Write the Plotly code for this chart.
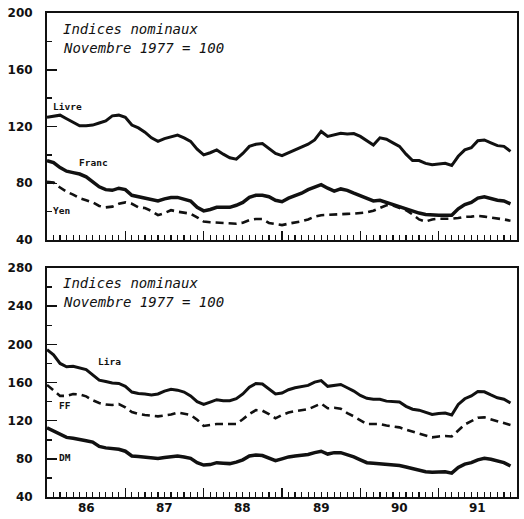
import plotly.graph_objects as go

# Monthly data, Jan 1986 .. Dec 1991
start_year = 1986
n_months = 72
months = [start_year + i / 12 for i in range(n_months)]

livre = [126.5, 127.5, 128, 125.5, 123, 120.5, 120.5, 121, 122.5, 124, 127.5, 128,
         126.5, 121, 119, 116, 112, 109.5, 111.5, 113, 114, 112, 109.5, 104,
         100, 101.5, 103.5, 100.5, 98, 97, 101, 106, 107.5, 108, 104.5, 101,
         99.5, 101.5, 104, 105.5, 107.5, 110.5, 116.5, 113, 114, 115.2, 114.8, 115,
         113, 110, 107, 112, 111, 108.5, 106, 100.5, 96, 96, 94, 93,
         93.5, 94, 92.5, 99, 103.5, 105, 110, 110.5, 108.5, 106.5, 106, 102.5]
franc = [96, 94.5, 91, 88.5, 87.5, 86.5, 84.5, 81, 77.5, 75.5, 75, 76.5,
         75.5, 71.5, 70.5, 70, 68.5, 67.5, 69, 70, 70, 69, 67.5, 63,
         60.5, 61.5, 63, 63, 63, 64.5, 66.5, 70, 71.5, 71.5, 70.5, 68,
         67, 69.5, 71, 73, 75.5, 77, 79, 76.5, 74.5, 76, 75, 73,
         71, 69, 67.5, 68, 66.5, 65, 63.5, 61.5, 60, 59, 58, 57.5,
         57.5, 57.5, 57.5, 62, 65, 66.5, 69.5, 70.5, 69, 68, 67.5, 65.5]
yen = [81, 80.5, 77, 74, 72, 69.5, 68, 66.5, 64, 63, 63.5, 65.5,
       66.5, 65.5, 63, 62.5, 60.5, 57.5, 59, 61, 60, 59.5, 58.5, 56,
       53, 52.5, 52.2, 51.8, 51.3, 51.5, 52.2, 54, 54.8, 54.8, 52, 51,
       50.5, 51.5, 52.2, 53.2, 54.5, 56.5, 57.5, 57.6, 57.8, 58.1, 58.4, 58.6,
       58.8, 59.5, 60.6, 62.8, 64.5, 64.3, 62.5, 61, 58, 54.5, 53, 54.5,
       55, 54.8, 55, 55.5, 56.3, 56.5, 57, 56.5, 56, 55.5, 54.5, 53.6]

lira = [194.5, 189, 180, 176.5, 177, 175, 173.5, 168, 162.5, 161, 159.5, 159,
        156, 150, 148.5, 148, 147, 148, 151, 153, 152, 150, 146, 140,
        137, 139.5, 142, 141, 141, 143, 148, 155, 159, 158.5, 153, 148,
        149, 152.5, 154.5, 155.5, 157, 160.5, 162, 156, 157, 158, 154.5, 151,
        146.5, 143.5, 142.5, 142.5, 140.5, 140, 139.5, 135, 132, 131, 129, 126.5,
        127.5, 128, 126, 137, 143, 146, 150.5, 150.3, 147, 144, 142.5, 138.5]
ff = [157.5, 151.5, 146, 146, 148, 147.5, 145.5, 141.5, 138.5, 137, 136.5, 137.5,
      134, 129, 127, 126, 125, 124.5, 125.5, 126.5, 128.5, 127.5, 126, 121,
      114.5, 115.5, 116.5, 116.5, 116.5, 116.5, 121.5, 127, 131, 130.5, 127, 122.5,
      126, 128.5, 130, 131, 132, 135, 138, 133, 133.5, 132.5, 128, 124.5,
      120.5, 116.5, 116.5, 116.5, 115, 113.8, 113, 110.5, 108.5, 107, 105, 102.5,
      103.5, 104, 103.5, 110, 116, 119.5, 123, 123.5, 121.5, 119.5, 117, 115.5]
dm = [112.5, 109, 105.5, 102.5, 101.5, 100.5, 99, 97.5, 93, 91.5, 90.5, 90,
      88, 83, 82.5, 82, 81, 80.5, 81.5, 82.5, 83, 82, 80.5, 76,
      73.5, 74, 76, 75.5, 75, 76.5, 79, 83, 84, 83.5, 80.5, 78,
      80, 82, 83, 83.5, 84.5, 86.5, 88, 85, 86.5, 86.5, 84.5, 82,
      79, 76, 75.5, 75, 74.5, 74, 73, 71.5, 70, 68.5, 66.5, 66,
      66.5, 66.5, 65, 71, 74.5, 76, 79, 80.5, 79.5, 77.5, 76, 72.5]

year_ticks = [1987, 1988, 1989, 1990, 1991]
year_labels = ["86", "87", "88", "89", "90", "91"]
year_label_pos = [1986.5, 1987.5, 1988.5, 1989.5, 1990.5, 1991.5]

top_yticks = [40, 80, 120, 160, 200]
bot_yticks = [40, 80, 120, 160, 200, 240, 280]

INK = "#111111"
SOLID_W = 3
DASH_W = 2.6
DASH = "8px,5px"

fig = go.Figure()
fig.add_trace(go.Scatter(x=months, y=livre, mode="lines", line=dict(color=INK, width=SOLID_W),
                         xaxis="x", yaxis="y", showlegend=False))
fig.add_trace(go.Scatter(x=months, y=franc, mode="lines", line=dict(color=INK, width=SOLID_W + 0.5),
                         xaxis="x", yaxis="y", showlegend=False))
fig.add_trace(go.Scatter(x=months, y=yen, mode="lines", line=dict(color=INK, width=DASH_W, dash=DASH),
                         xaxis="x", yaxis="y", showlegend=False))
fig.add_trace(go.Scatter(x=months, y=lira, mode="lines", line=dict(color=INK, width=SOLID_W),
                         xaxis="x2", yaxis="y2", showlegend=False))
fig.add_trace(go.Scatter(x=months, y=ff, mode="lines", line=dict(color=INK, width=DASH_W, dash=DASH),
                         xaxis="x2", yaxis="y2", showlegend=False))
fig.add_trace(go.Scatter(x=months, y=dm, mode="lines", line=dict(color=INK, width=SOLID_W + 0.5),
                         xaxis="x2", yaxis="y2", showlegend=False))

tick_font = dict(family="DejaVu Sans", size=12, color=INK, weight="bold")

xcommon = dict(range=[1986, 1992], showgrid=False, zeroline=False,
               showline=True, linecolor=INK, linewidth=2, mirror=True,
               tickmode="array", tickvals=year_ticks, ticks="inside", ticklen=9,
               tickwidth=1.5, tickcolor=INK, showticklabels=False,
               minor=dict(tick0=1986, dtick=1 / 12, ticks="inside", ticklen=5,
                          tickwidth=1.2, tickcolor=INK, showgrid=False))

def ycommon(rng, vals):
    return dict(range=rng, showgrid=False, zeroline=False,
                showline=True, linecolor=INK, linewidth=2, mirror=True,
                tickmode="array", tickvals=vals, ticks="inside", ticklen=10,
                tickwidth=1.5, tickcolor=INK, tickfont=tick_font,
                ticklabelstandoff=10,
                minor=dict(dtick=20, tick0=0, ticks="inside", ticklen=5,
                           tickwidth=1.5, tickcolor=INK, showgrid=False))

fig.update_layout(
    width=524, height=519,
    margin=dict(l=47, r=5, t=13, b=22),
    paper_bgcolor="white", plot_bgcolor="white",
    hovermode=False,
    xaxis=dict(domain=[0, 1], anchor="y", **xcommon),
    yaxis=dict(domain=[0.531, 1.0], anchor="x", **ycommon([40, 200], top_yticks)),
    xaxis2=dict(domain=[0, 1], anchor="y2", **xcommon),
    yaxis2=dict(domain=[0.0, 0.473], anchor="x2", **ycommon([40, 280], bot_yticks)),
)

annotations = []
for pos, lab in zip(year_label_pos, year_labels):
    annotations.append(dict(x=pos, y=0, xref="x2", yref="paper", text=lab, showarrow=False,
                            yanchor="top", yshift=-2, font=tick_font))

title_font = dict(family="DejaVu Sans Mono", size=14, color=INK, style="italic")
for xr, yr, y1, y2 in [("x", "y", 188.7, 175.3), ("x2", "y2", 264.3, 244.4)]:
    annotations.append(dict(x=1986.18, y=y1, xref=xr, yref=yr, text="Indices nominaux",
                            showarrow=False, xanchor="left", yanchor="middle", font=title_font))
    annotations.append(dict(x=1986.18, y=y2, xref=xr, yref=yr, text="Novembre 1977 = 100",
                            showarrow=False, xanchor="left", yanchor="middle", font=title_font))

label_font = dict(family="DejaVu Sans Mono", size=9.5, color=INK, weight="bold")
series_labels = [
    ("x", "y", 1986.05, 133.8, "Livre"),
    ("x", "y", 1986.38, 94.3, "Franc"),
    ("x", "y", 1986.05, 60.5, "Yen"),
    ("x2", "y2", 1986.62, 182.5, "Lira"),
    ("x2", "y2", 1986.13, 136.4, "FF"),
    ("x2", "y2", 1986.13, 81.9, "DM"),
]
for xr, yr, xv, yv, txt in series_labels:
    annotations.append(dict(x=xv, y=yv, xref=xr, yref=yr, text=txt, showarrow=False,
                            xanchor="left", yanchor="middle", font=label_font))

fig.update_layout(annotations=annotations)

fig.write_html(
    "out.html",
    config={"displayModeBar": False, "staticPlot": True},
    post_script="document.body.style.margin='0';document.body.style.padding='0';"
                "document.documentElement.style.overflow='hidden';",
)
